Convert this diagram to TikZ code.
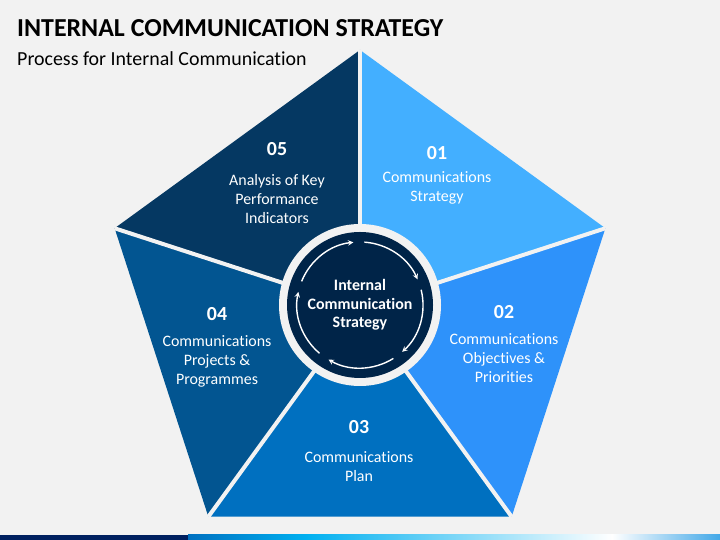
\documentclass[tikz,border=0pt]{standalone}
\usepackage{fontspec}
\setmainfont[Ligatures={NoCommon}]{Carlito}
\usepackage{tikz}
\usetikzlibrary{arrows,shapes,positioning}
\usepackage{xcolor}
\definecolor{icbg}{RGB}{242,242,242}
\definecolor{icone}{RGB}{67,175,255}
\definecolor{ictwo}{RGB}{46,146,250}
\definecolor{icthree}{RGB}{0,112,192}
\definecolor{icfour}{RGB}{2,85,145}
\definecolor{icfive}{RGB}{5,56,98}
\definecolor{iccore}{RGB}{0,36,72}
\definecolor{icnavy}{RGB}{0,32,96}
\definecolor{iccyan}{RGB}{0,176,240}
\definecolor{icend}{RGB}{66,168,232}
\tikzstyle{segnum} = [text=white, inner sep=0pt, font=\bfseries\fontsize{20}{24}\selectfont]
\tikzstyle{segtext} = [text=white, inner sep=0pt, align=center, font=\fontsize{16}{19}\selectfont]
\tikzstyle{seggap} = [line width=4bp, color=icbg]
\tikzstyle{cyclearrow} = [line width=1.4bp, white, ->, >=stealth]

\begin{document}
\begin{tikzpicture}[x=1bp, y=1bp]
% Background
\fill[icbg] (0,0) rectangle (720,540);

% Title
\node[anchor=base west, inner sep=0pt, font=\bfseries\fontsize{26}{32}\selectfont] (title) at (17,503) {INTERNAL COMMUNICATION STRATEGY};
\node[anchor=base west, inner sep=0pt, font=\fontsize{20}{24}\selectfont] (subtitle) at (17,474) {Process for Internal Communication};

% Pentagon corners
\coordinate (c) at (360,232);
\path (c) ++(90:258bp) coordinate (vtop);
\path (c) ++(18:258bp) coordinate (vright);
\path (c) ++(-54:258bp) coordinate (vbr);
\path (c) ++(-126:258bp) coordinate (vbl);
\path (c) ++(162:258bp) coordinate (vleft);

% Segments
\fill[icone] (c) -- (vtop) -- (vright) -- cycle;
\fill[ictwo] (c) -- (vright) -- (vbr) -- cycle;
\fill[icthree] (c) -- (vbr) -- (vbl) -- cycle;
\fill[icfour] (c) -- (vbl) -- (vleft) -- cycle;
\fill[icfive] (c) -- (vleft) -- (vtop) -- cycle;

% White gaps
\draw[seggap] (c) -- (vtop);
\draw[seggap] (c) -- (vright);
\draw[seggap] (c) -- (vbr);
\draw[seggap] (c) -- (vbl);
\draw[seggap] (c) -- (vleft);

% Centre circle
\node[circle, fill=icbg, inner sep=0pt, minimum size=162bp] (ring) at (360,235) {};
\node[circle, fill=iccore, inner sep=0pt, minimum size=146bp, text=white, align=center,
  font=\bfseries\fontsize{16}{18.5}\selectfont] (core) at (360,235) {Internal\\Communication\\Strategy};

% Cycle arrows
\draw[cyclearrow] (core.center) ++(158:63bp) arc (158:96:63bp);
\draw[cyclearrow] (core.center) ++(86:63bp) arc (86:24:63bp);
\draw[cyclearrow] (core.center) ++(14:63bp) arc (14:-48:63bp);
\draw[cyclearrow] (core.center) ++(-58:63bp) arc (-58:-120:63bp);
\draw[cyclearrow] (core.center) ++(-130:63bp) arc (-130:-192:63bp);

% Segment labels
\node[segnum] (n01) at (437,387) {01};
\node[segtext] (t01) at (437,352) {Communications\\Strategy};
\node[segnum] (n02) at (504,228) {02};
\node[segtext] (t02) at (504,182) {Communications\\Objectives \&\\Priorities};
\node[segnum] (n03) at (359,113) {03};
\node[segtext] (t03) at (359,73) {Communications\\Plan};
\node[segnum] (n04) at (217,226) {04};
\node[segtext] (t04) at (217,179) {Communications\\Projects \&\\Programmes};
\node[segnum] (n05) at (277,391) {05};
\node[segtext] (t05) at (277,341) {Analysis of Key\\Performance\\Indicators};

% Bottom bar
\fill[icnavy] (0,0) rectangle (188,5);
\shade[left color=icthree, right color=iccyan] (188,0) rectangle (306,5);
\shade[left color=iccyan, right color=white] (306,0) rectangle (612,5);
\shade[left color=white, right color=icend] (612,0) rectangle (720,5);
\end{tikzpicture}
\end{document}
